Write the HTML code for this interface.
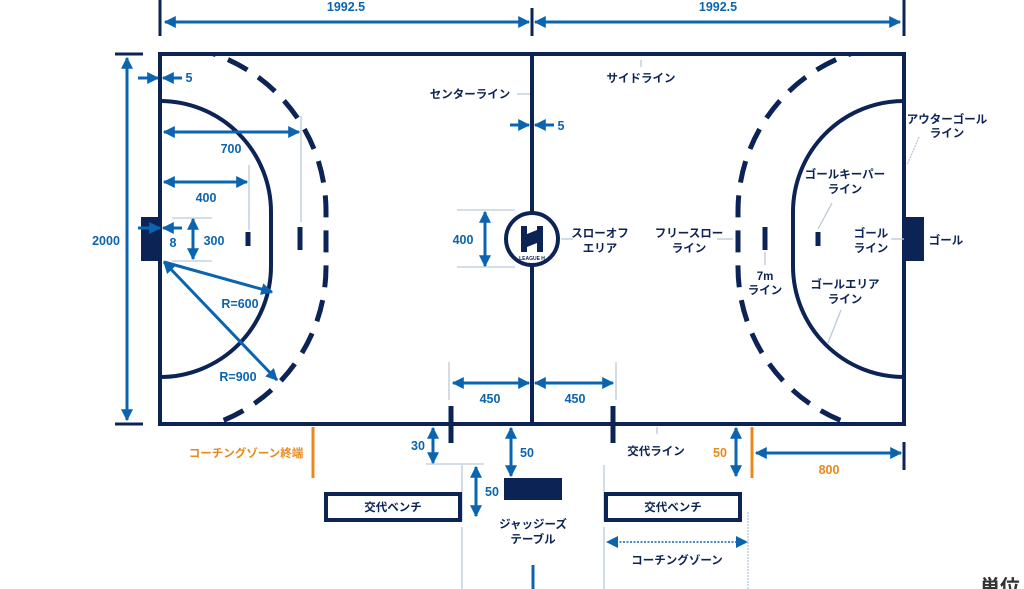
<!DOCTYPE html>
<html><head><meta charset="utf-8"><style>
html,body{margin:0;padding:0;background:#fff;}
svg{display:block;}
text{font-family:"Liberation Sans","Noto Sans CJK JP",sans-serif;font-weight:bold;}
</style></head><body>
<svg width="1024" height="589" viewBox="0 0 1024 589" xmlns="http://www.w3.org/2000/svg">
<defs>
<marker id="a" viewBox="0 0 10 10" refX="9" refY="5" markerWidth="4" markerHeight="4" orient="auto-start-reverse"><path d="M0,0L10,5L0,10z" fill="#0b64b0"/></marker>
<clipPath id="court"><rect x="160" y="54" width="744" height="370"/></clipPath>
</defs>
<rect width="1024" height="589" fill="#fff"/>
<!-- court -->
<rect x="160" y="54" width="744" height="370" fill="none" stroke="#0c2356" stroke-width="4"/>
<line x1="532" y1="54" x2="532" y2="424" stroke="#0c2356" stroke-width="4"/>
<g fill="none" stroke="#0c2356" stroke-width="4">
<path d="M160,101 A111,111 0 0 1 271,212 L271,266 A111,111 0 0 1 160,377"/>
<path d="M904,101 A111,111 0 0 0 793,212 L793,266 A111,111 0 0 0 904,377"/>
</g>
<g clip-path="url(#court)" fill="none" stroke="#0c2356" stroke-width="5" stroke-dasharray="22 13">
<path d="M160,45 A166,166 0 0 1 326,211 L326,267 A166,166 0 0 1 160,433"/>
<path d="M904,45 A166,166 0 0 0 738,211 L738,267 A166,166 0 0 0 904,433"/>
</g>
<g stroke="#0c2356" stroke-width="5">
<line x1="300" y1="227" x2="300" y2="250"/><line x1="248" y1="232" x2="248" y2="246"/>
<line x1="765" y1="227" x2="765" y2="250"/><line x1="818" y1="232" x2="818" y2="246"/>
<line x1="451" y1="406" x2="451" y2="443"/><line x1="613" y1="406" x2="613" y2="443"/>
</g>
<rect x="141" y="217" width="20" height="44" fill="#0c2356"/>
<rect x="904" y="217" width="20" height="44" fill="#0c2356"/>
<circle cx="532" cy="239" r="26" fill="#fff" stroke="#0c2356" stroke-width="4"/>
<path d="M521,226h6v8l10,-4v-4h6v26h-6v-9l-10,4v5h-6z" fill="#0c2356"/>
<text x="532" y="260" font-size="5" fill="#0c2356" text-anchor="middle">LEAGUE H</text>
<!-- grey helper lines -->
<g stroke="#b9c9d9" stroke-width="1.3">
<line x1="301" y1="116" x2="301" y2="222"/><line x1="249" y1="165" x2="249" y2="230"/>
<line x1="172" y1="218" x2="212" y2="218"/><line x1="172" y1="261" x2="212" y2="261"/>
<line x1="457" y1="210" x2="515" y2="210"/><line x1="457" y1="267" x2="515" y2="267"/>
<line x1="517" y1="94" x2="530" y2="94"/><line x1="561" y1="239" x2="573" y2="239"/>
<line x1="641" y1="60" x2="641" y2="67"/><line x1="717" y1="239" x2="733" y2="239"/>
<line x1="765" y1="252" x2="765" y2="265"/><line x1="832" y1="203" x2="818" y2="229"/>
<line x1="841" y1="310" x2="828" y2="343"/><line x1="891" y1="239" x2="904" y2="239"/>
<line x1="919" y1="137" x2="907" y2="165" stroke-dasharray="2 1"/>
<line x1="449" y1="362" x2="449" y2="400"/><line x1="616" y1="362" x2="616" y2="400"/>
<line x1="426" y1="464" x2="484" y2="464"/>
<line x1="462" y1="465" x2="462" y2="521"/><line x1="462" y1="527" x2="462" y2="589"/>
<line x1="604" y1="465" x2="604" y2="521"/><line x1="604" y1="527" x2="604" y2="589"/>
<line x1="657" y1="427" x2="657" y2="434"/>
<line x1="748" y1="512" x2="748" y2="589" stroke-dasharray="2 1"/>
</g>
<!-- navy ticks -->
<g stroke="#0c2356" stroke-width="3">
<line x1="160" y1="0" x2="160" y2="36"/><line x1="532" y1="8" x2="532" y2="36"/><line x1="904" y1="0" x2="904" y2="36"/>
<line x1="115" y1="54" x2="143" y2="54"/><line x1="115" y1="424" x2="143" y2="424"/>
<line x1="904" y1="442" x2="904" y2="470"/>
</g>
<rect x="504" y="478" width="58" height="22" fill="#0c2356"/>
<rect x="326" y="494" width="134" height="26" fill="#fff" stroke="#0c2356" stroke-width="4"/>
<rect x="606" y="494" width="134" height="26" fill="#fff" stroke="#0c2356" stroke-width="4"/>
<g stroke="#e8891c" stroke-width="3"><line x1="313" y1="427" x2="313" y2="478"/><line x1="752" y1="427" x2="752" y2="478"/></g>
<!-- blue arrows -->
<g stroke="#0b64b0" stroke-width="3" marker-end="url(#a)">
<line x1="165" y1="22" x2="529" y2="22" marker-start="url(#a)"/>
<line x1="535" y1="22" x2="900" y2="22" marker-start="url(#a)"/>
<line x1="127" y1="58" x2="127" y2="420" marker-start="url(#a)"/>
<line x1="138" y1="78" x2="158" y2="78"/><line x1="182" y1="78" x2="163" y2="78"/>
<line x1="164" y1="132" x2="299" y2="132" marker-start="url(#a)"/>
<line x1="164" y1="182" x2="247" y2="182" marker-start="url(#a)"/>
<line x1="138" y1="228" x2="160" y2="228"/><line x1="182" y1="228" x2="163" y2="228"/>
<line x1="193" y1="219" x2="193" y2="259" marker-start="url(#a)"/>
<line x1="164" y1="262" x2="272" y2="292"/>
<line x1="164" y1="262" x2="277" y2="380" marker-start="url(#a)"/>
<line x1="510" y1="125" x2="529" y2="125"/><line x1="554" y1="125" x2="535" y2="125"/>
<line x1="485" y1="212" x2="485" y2="266" marker-start="url(#a)"/>
<line x1="453" y1="383" x2="529" y2="383" marker-start="url(#a)"/>
<line x1="535" y1="383" x2="613" y2="383" marker-start="url(#a)"/>
<line x1="433" y1="428" x2="433" y2="463" marker-start="url(#a)"/>
<line x1="511" y1="428" x2="511" y2="476" marker-start="url(#a)"/>
<line x1="476" y1="467" x2="476" y2="516" marker-start="url(#a)"/>
<line x1="736" y1="428" x2="736" y2="476" marker-start="url(#a)"/>
<line x1="756" y1="453" x2="901" y2="453" marker-start="url(#a)"/>
<line x1="533" y1="565" x2="533" y2="589" marker-end="none"/>
</g>
<line x1="609" y1="542" x2="745" y2="542" stroke="#0b64b0" stroke-width="1.5" stroke-dasharray="2 1.5"/>
<path d="M606,542l12,-6v12z M748,542l-12,-6v12z" fill="#0b64b0"/>
<!-- blue labels -->
<g fill="#0b64b0" font-size="12.5" text-anchor="middle">
<text x="346" y="11">1992.5</text><text x="718" y="11">1992.5</text>
<text x="106" y="245">2000</text>
<text x="189" y="82">5</text><text x="561" y="130">5</text>
<text x="231" y="153">700</text><text x="206" y="202">400</text>
<text x="173" y="247">8</text><text x="214" y="245">300</text>
<text x="240" y="308">R=600</text><text x="238" y="381">R=900</text>
<text x="463" y="244">400</text>
<text x="490" y="403">450</text><text x="575" y="403">450</text>
<text x="418" y="450">30</text><text x="527" y="457">50</text><text x="492" y="496">50</text>
</g>
<g fill="#e8891c" font-size="12.5" text-anchor="middle">
<text x="720" y="457">50</text><text x="829" y="474">800</text>
<text x="246" y="457" font-size="11.5">コーチングゾーン終端</text>
</g>
<!-- navy labels -->
<g fill="#0c2356" font-size="11.5" text-anchor="middle">
<text x="470" y="98">センターライン</text>
<text x="641" y="82">サイドライン</text>
<text x="600" y="237">スローオフ</text><text x="600" y="252">エリア</text>
<text x="689" y="237">フリースロー</text><text x="689" y="252">ライン</text>
<text x="765" y="280">7m</text><text x="765" y="294">ライン</text>
<text x="845" y="178">ゴールキーパー</text><text x="845" y="193">ライン</text>
<text x="871" y="237">ゴール</text><text x="871" y="252">ライン</text>
<text x="946" y="244">ゴール</text>
<text x="947" y="123">アウターゴール</text><text x="947" y="137">ライン</text>
<text x="845" y="288">ゴールエリア</text><text x="845" y="303">ライン</text>
<text x="656" y="455">交代ライン</text>
<text x="393" y="511">交代ベンチ</text><text x="673" y="511">交代ベンチ</text>
<text x="533" y="528">ジャッジーズ</text><text x="533" y="543">テーブル</text>
<text x="677" y="564">コーチングゾーン</text>
</g>
<text x="980" y="594" font-size="20" fill="#333">単位</text>
</svg>
</body></html>
